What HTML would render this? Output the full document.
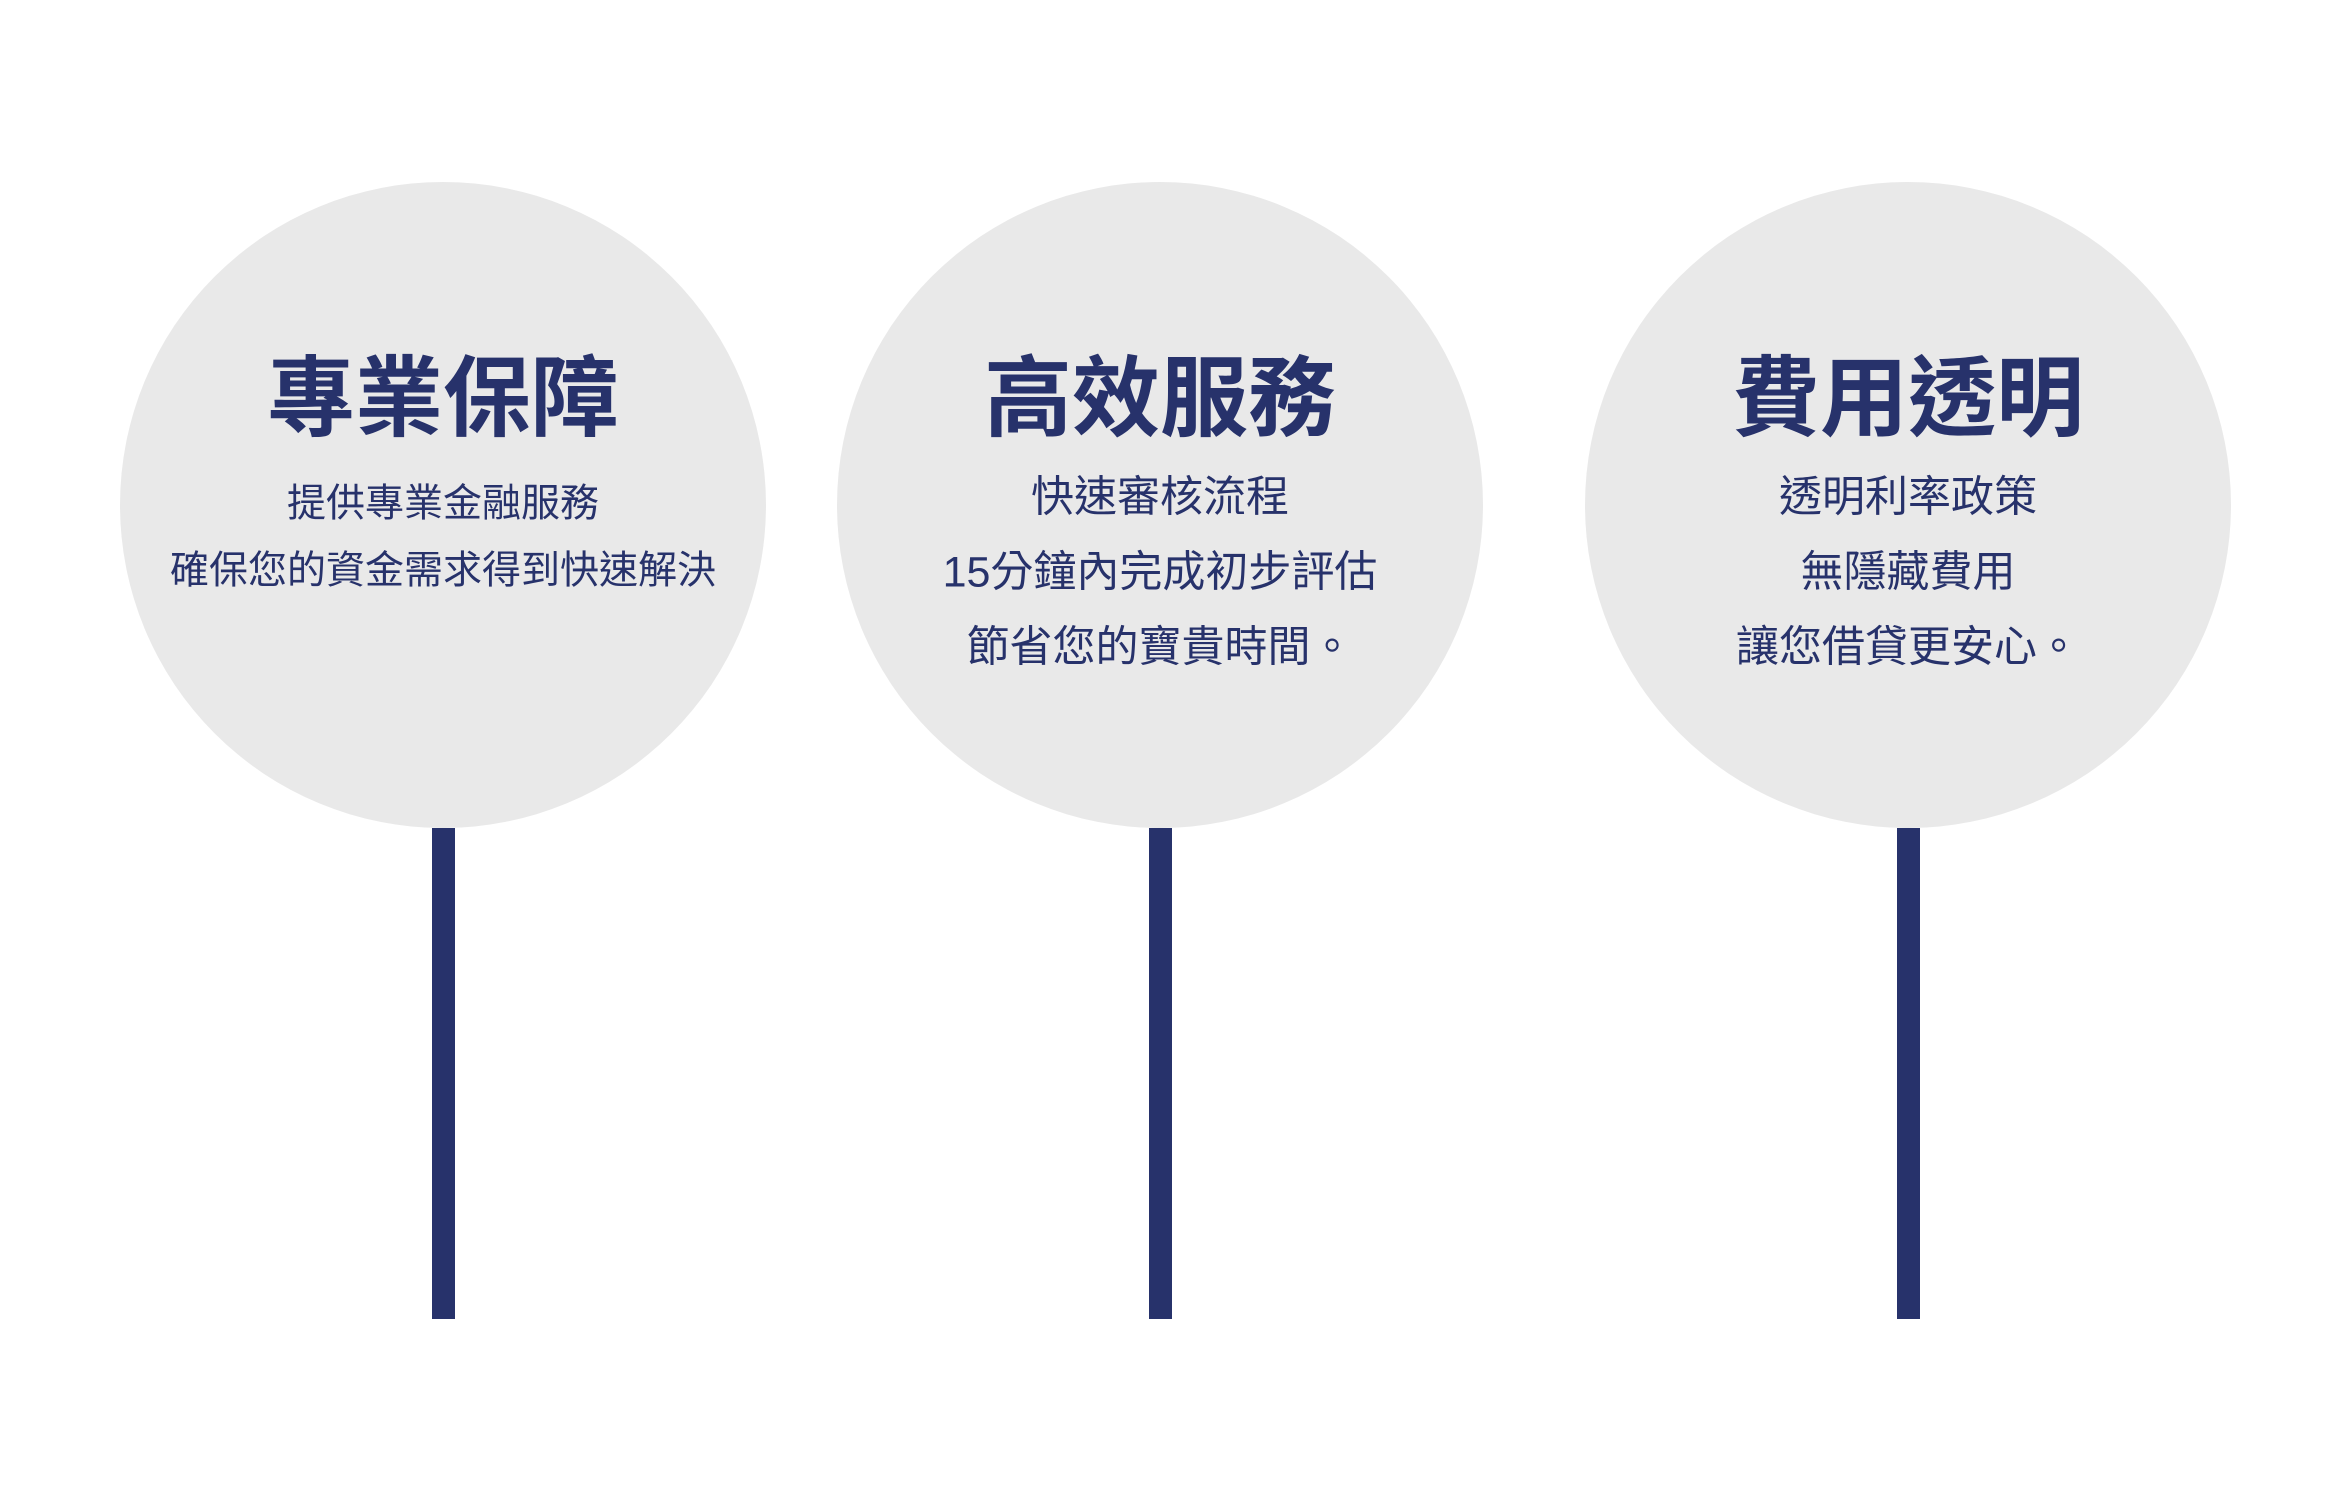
<!DOCTYPE html>
<html><head><meta charset="utf-8"><style>
body{margin:0;width:2352px;height:1498px;background:#fff;position:relative;overflow:hidden;font-family:"Liberation Sans","Noto Sans CJK TC",sans-serif;color:#27326b}
.c{position:absolute;width:646px;height:646px;border-radius:50%;background:#e9e9e9;top:182px}
.b{position:absolute;width:23px;top:828px;height:491px;background:#27326b}
.t{position:absolute;width:700px;text-align:center;white-space:nowrap;line-height:1;transform:translateY(-50%)}
.h{font-size:88px;font-weight:bold}
.s{font-size:43px}
.s1{font-size:39px}
</style></head><body>
<div class="c" style="left:120px"></div>
<div class="c" style="left:837px"></div>
<div class="c" style="left:1585px"></div>
<div class="b" style="left:432px"></div>
<div class="b" style="left:1149px"></div>
<div class="b" style="left:1897px"></div>

<div class="t h" style="left:93px;top:399px">專業保障</div>
<div class="t s1" style="left:93px;top:504px">提供專業金融服務</div>
<div class="t s1" style="left:93px;top:571px">確保您的資金需求得到快速解決</div>

<div class="t h" style="left:810px;top:399px">高效服務</div>
<div class="t s" style="left:810px;top:498px">快速審核流程</div>
<div class="t s" style="left:810px;top:573px">15分鐘內完成初步評估</div>
<div class="t s" style="left:810px;top:648px">節省您的寶貴時間。</div>

<div class="t h" style="left:1558px;top:399px">費用透明</div>
<div class="t s" style="left:1558px;top:498px">透明利率政策</div>
<div class="t s" style="left:1558px;top:573px">無隱藏費用</div>
<div class="t s" style="left:1558px;top:648px">讓您借貸更安心。</div>
</body></html>
